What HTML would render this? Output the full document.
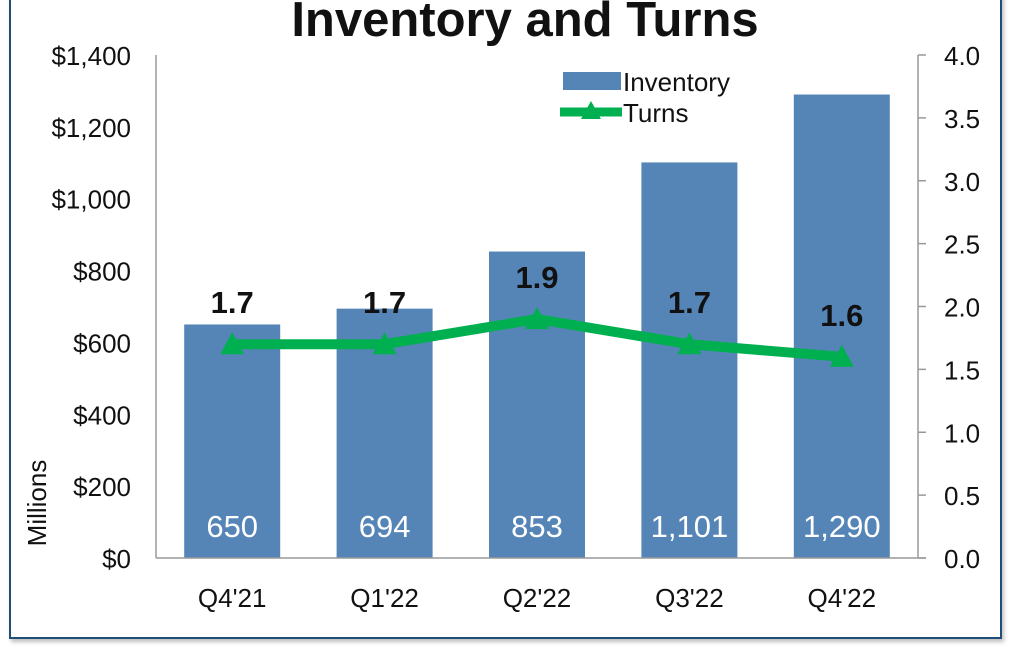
<!DOCTYPE html>
<html><head><meta charset="utf-8"><style>
html,body{margin:0;padding:0;background:#fff;}
body{width:1018px;height:658px;overflow:hidden;position:relative;font-family:"Liberation Sans",Arial,sans-serif;}
#frame{position:absolute;left:9px;top:-10px;width:989px;height:645px;border:2px solid #1f4e79;box-shadow:2px 3px 4px rgba(0,0,0,0.25);}
svg{position:absolute;left:0;top:0;}
</style></head><body>
<div id="frame"></div>
<svg id="chart" width="1018" height="658"></svg>
<script>
const categories=["Q4'21","Q1'22","Q2'22","Q3'22","Q4'22"];
const inventory=[650,694,853,1101,1290];
const turns=[1.7,1.7,1.9,1.7,1.6];
const leftTicks=[0,200,400,600,800,1000,1200,1400];
const rightTicks=[0,0.5,1,1.5,2,2.5,3,3.5,4];
const NS="http://www.w3.org/2000/svg";
const svg=document.getElementById('chart');
const X0=156,X1=918,Y0=558,Y1=55;
const yL=v=>Y0-(v/1400)*(Y0-Y1);
const yR=v=>Y0-(v/4)*(Y0-Y1);
const band=(X1-X0)/categories.length;
const xC=i=>X0+band*(i+0.5);
function mk(tag,attrs,text){const e=document.createElementNS(NS,tag);for(const k in attrs)e.setAttribute(k,attrs[k]);if(text!=null)e.textContent=text;svg.appendChild(e);return e;}
let t=mk('text',{x:525,y:36,'text-anchor':'middle','font-size':49,'font-weight':'bold',fill:'#111'},'Inventory and Turns');


inventory.forEach((v,i)=>{
 const b=mk('rect',{x:xC(i)-48,y:yL(v),width:96,height:Y0-yL(v),fill:'#5585b7'});
 
 
 const l=mk('text',{x:xC(i),y:537,'text-anchor':'middle','font-size':31,fill:'#fff'},v.toLocaleString('en-US'));
 
 
 const c=mk('text',{x:xC(i),y:607,'text-anchor':'middle','font-size':26,fill:'#111'},categories[i]);
 
 
});
let a=mk('line',{x1:X0,y1:Y1,x2:X0,y2:Y0,stroke:'#999','stroke-width':1.5});


a=mk('line',{x1:X1,y1:Y1,x2:X1,y2:Y0,stroke:'#999','stroke-width':1.5});


a=mk('line',{x1:X0,y1:Y0,x2:X1+8,y2:Y0,stroke:'#999','stroke-width':1.5});


leftTicks.forEach(v=>{
 const e=mk('text',{x:131,y:yL(v)+10,'text-anchor':'end','font-size':26,fill:'#111'},'$'+v.toLocaleString('en-US'));
 
 
});
rightTicks.forEach(v=>{
 const tk=mk('line',{x1:X1,y1:yR(v),x2:X1+8,y2:yR(v),stroke:'#999','stroke-width':1.5});
 
 
 const e=mk('text',{x:944,y:yR(v)+10,'font-size':26,fill:'#111'},v.toFixed(1));
 
 
});
t=mk('text',{x:0,y:0,transform:'translate(46,503) rotate(-90)','text-anchor':'middle','font-size':26,fill:'#111'},'Millions');


const pts=turns.map((v,i)=>xC(i)+','+yR(v)).join(' ');
const pl=mk('polyline',{points:pts,fill:'none',stroke:'#00b050','stroke-width':10,'stroke-linejoin':'round'});


turns.forEach((v,i)=>{
 const x=xC(i),y=yR(v);
 const m=mk('polygon',{points:`${x},${y-12} ${x-12},${y+10} ${x+12},${y+10}`,fill:'#00b050'});
 
 
 const l=mk('text',{x:x,y:y-31,'text-anchor':'middle','font-size':31,'font-weight':'bold',fill:'#111'},v.toFixed(1));
 
 
});
let lg=mk('rect',{x:563,y:72,width:58,height:18,fill:'#5585b7'});


lg=mk('text',{x:623,y:91,'font-size':26,fill:'#111'},'Inventory');


lg=mk('line',{x1:560,y1:112,x2:622,y2:112,stroke:'#00b050','stroke-width':9});


lg=mk('polygon',{points:'591,101 581,119 601,119',fill:'#00b050'});


lg=mk('text',{x:623,y:122,'font-size':26,fill:'#111'},'Turns');


</script>
</body></html>
